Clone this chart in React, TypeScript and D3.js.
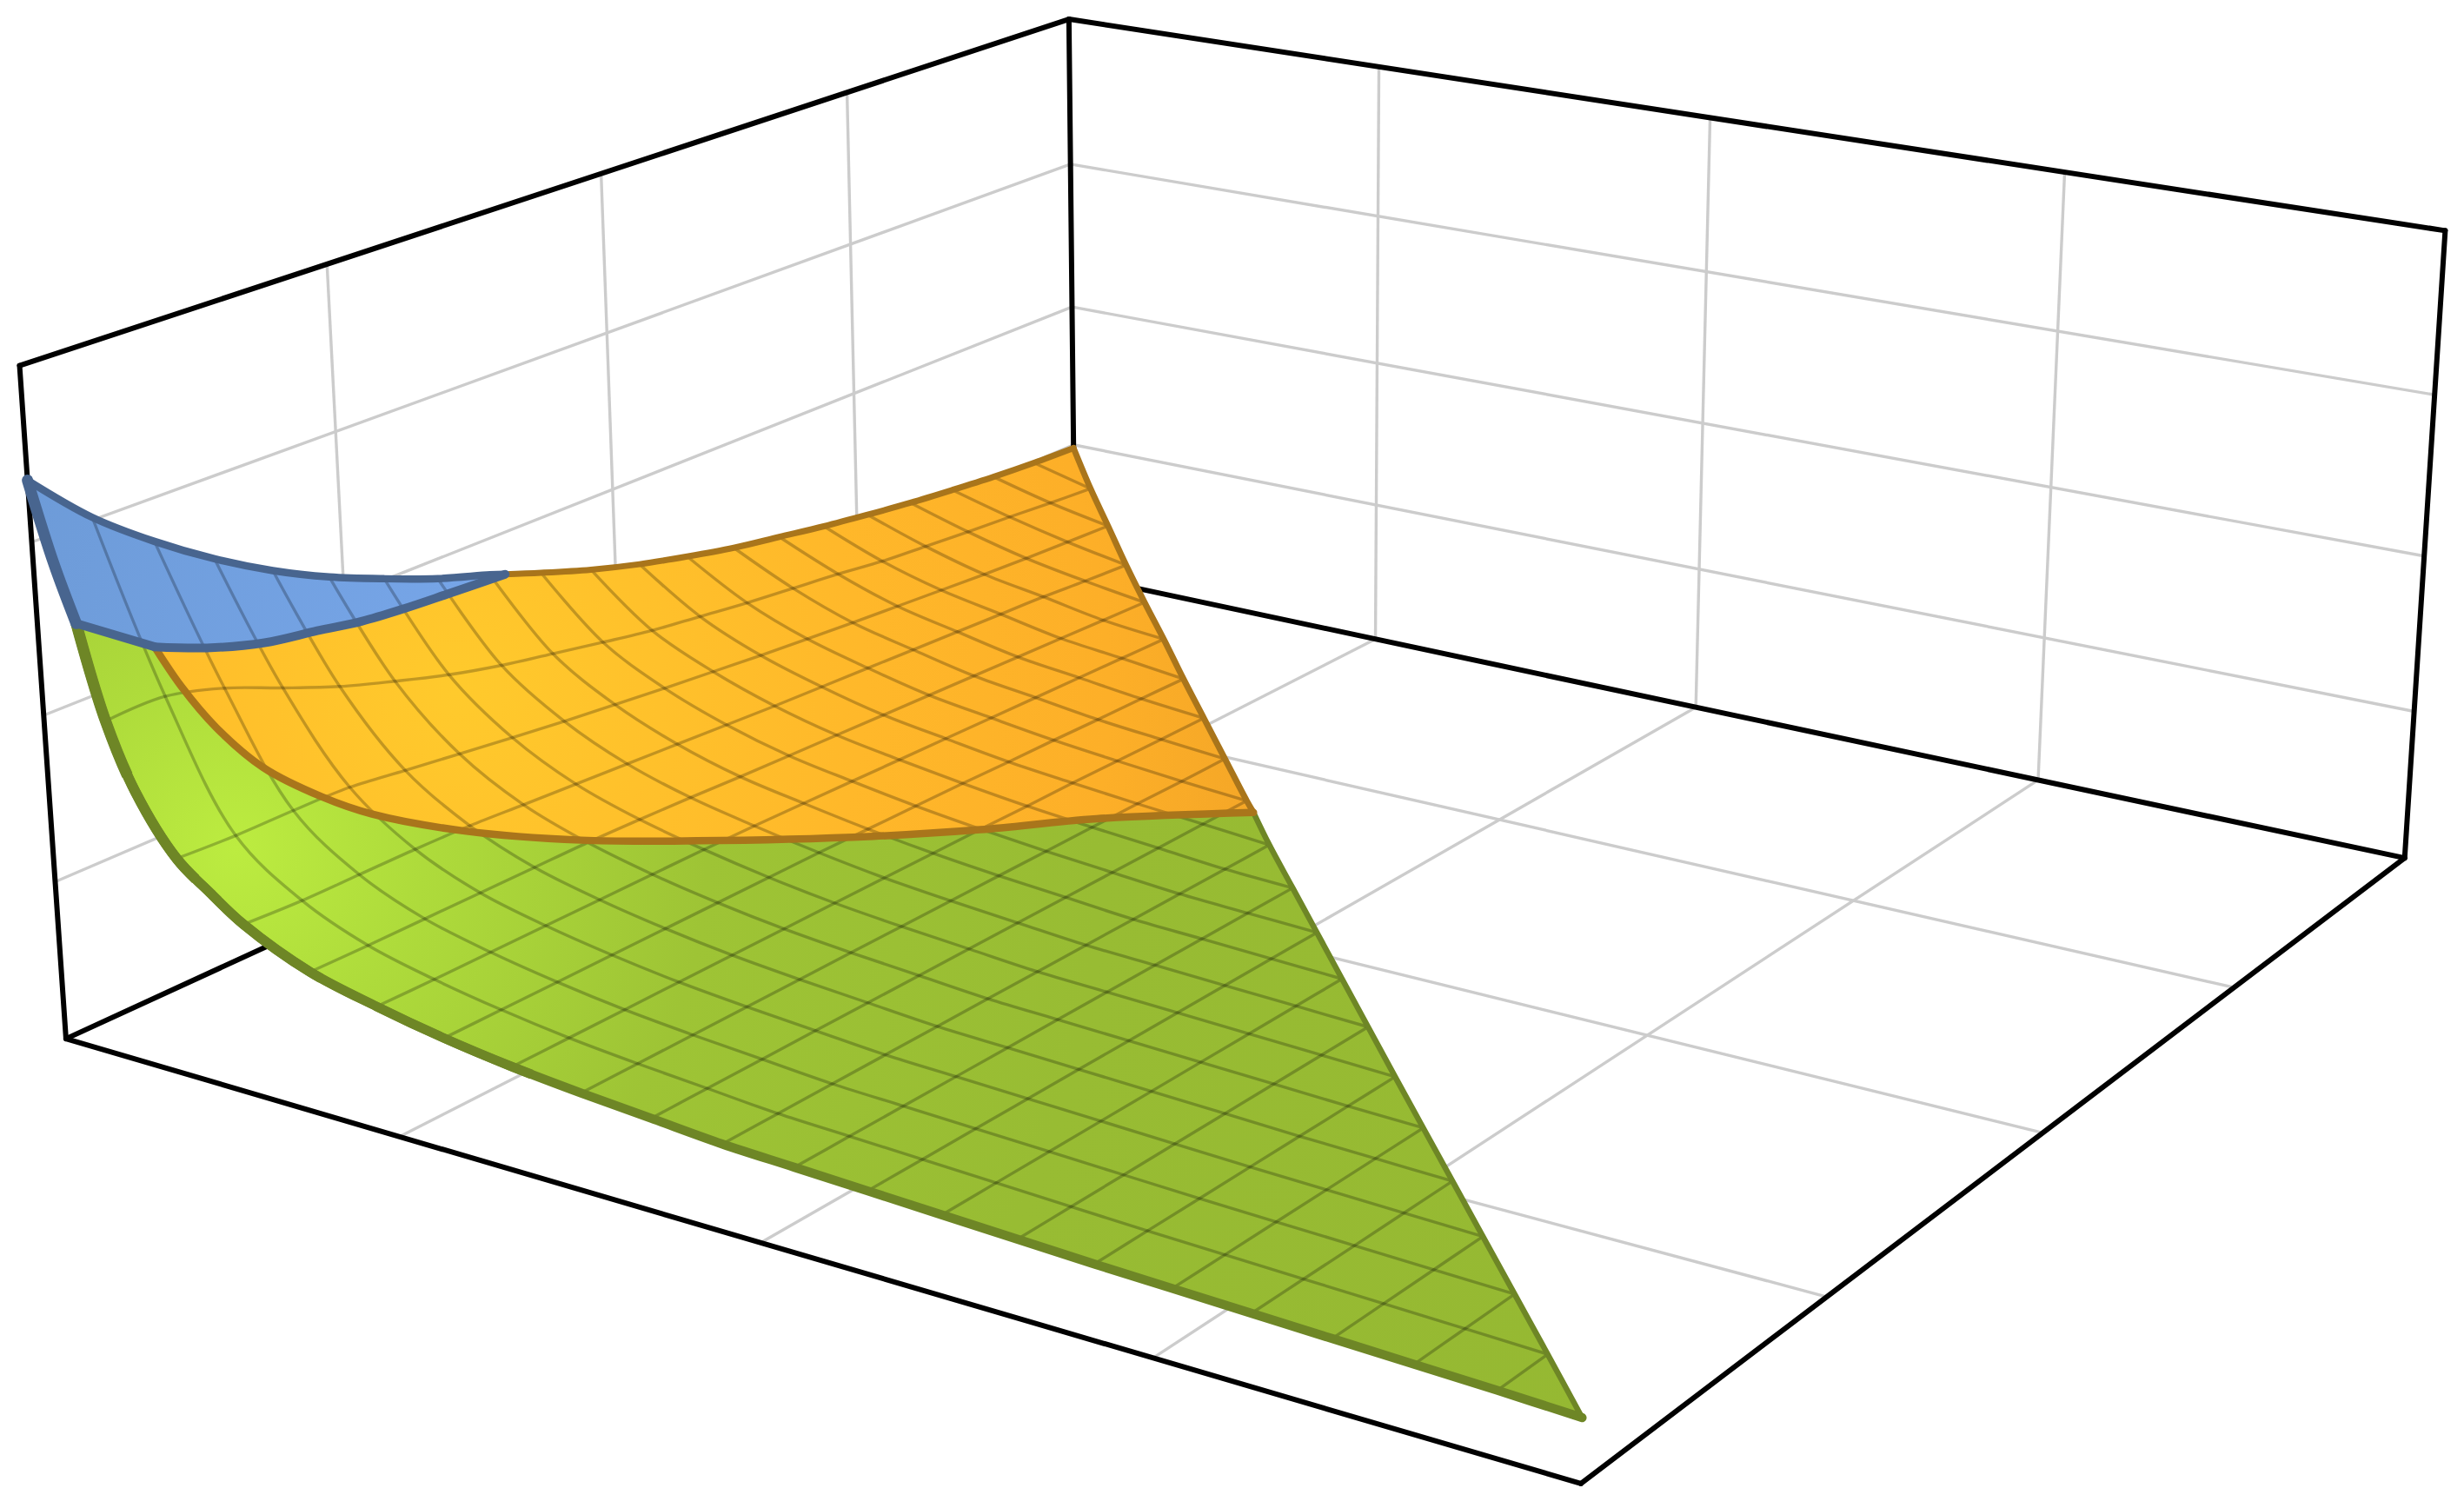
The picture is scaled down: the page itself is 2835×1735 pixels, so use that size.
import React from 'react'
import * as d3 from 'd3'

type P3 = number[]

const W = 2835
const H = 1735

const xTicks = [0.25, 0.5, 0.75]
const yTicks = [0.25, 0.5, 0.75]
const zTicks = [0.24, 0.49, 0.745]

// height of the surface at x = i/21, y = j/21, one row per x (triangular domain x + y <= 1)
const meshZ = [
  [0.835, 0.749, 0.681, 0.622, 0.571, 0.528, 0.492, 0.459, 0.432, 0.402, 0.374, 0.35, 0.33, 0.312, 0.298, 0.284, 0.272, 0.261, 0.252, 0.244, 0.238, 0.234],
  [0.505, 0.506, 0.483, 0.448, 0.415, 0.388, 0.363, 0.343, 0.327, 0.311, 0.296, 0.285, 0.274, 0.265, 0.256, 0.245, 0.238, 0.231, 0.225, 0.218, 0.212],
  [0.326, 0.322, 0.322, 0.32, 0.309, 0.298, 0.287, 0.277, 0.268, 0.259, 0.251, 0.243, 0.236, 0.229, 0.223, 0.217, 0.211, 0.206, 0.202, 0.198],
  [0.254, 0.25, 0.25, 0.25, 0.248, 0.243, 0.238, 0.233, 0.228, 0.223, 0.218, 0.214, 0.21, 0.206, 0.202, 0.198, 0.194, 0.188, 0.183],
  [0.21, 0.209, 0.209, 0.209, 0.209, 0.209, 0.207, 0.204, 0.2, 0.197, 0.194, 0.191, 0.188, 0.185, 0.182, 0.179, 0.176, 0.173],
  [0.186, 0.185, 0.185, 0.185, 0.185, 0.185, 0.185, 0.184, 0.182, 0.18, 0.178, 0.176, 0.174, 0.172, 0.17, 0.168, 0.166],
  [0.167, 0.167, 0.167, 0.167, 0.167, 0.167, 0.167, 0.167, 0.166, 0.165, 0.164, 0.162, 0.161, 0.159, 0.158, 0.156],
  [0.153, 0.153, 0.153, 0.153, 0.153, 0.153, 0.153, 0.153, 0.153, 0.153, 0.152, 0.152, 0.151, 0.15, 0.149],
  [0.143, 0.143, 0.143, 0.143, 0.143, 0.143, 0.143, 0.143, 0.143, 0.143, 0.143, 0.143, 0.142, 0.142],
  [0.135, 0.135, 0.135, 0.135, 0.135, 0.135, 0.135, 0.135, 0.135, 0.135, 0.135, 0.135, 0.135],
  [0.127, 0.127, 0.127, 0.127, 0.127, 0.127, 0.127, 0.127, 0.127, 0.127, 0.127, 0.127],
  [0.123, 0.123, 0.123, 0.123, 0.123, 0.123, 0.123, 0.123, 0.123, 0.123, 0.123],
  [0.119, 0.119, 0.119, 0.119, 0.119, 0.119, 0.119, 0.119, 0.119, 0.119],
  [0.115, 0.115, 0.115, 0.115, 0.115, 0.115, 0.115, 0.115, 0.115],
  [0.111, 0.111, 0.111, 0.111, 0.111, 0.111, 0.111, 0.111],
  [0.107, 0.107, 0.107, 0.107, 0.107, 0.107, 0.107],
  [0.104, 0.104, 0.104, 0.104, 0.104, 0.104],
  [0.101, 0.101, 0.101, 0.101, 0.101],
  [0.098, 0.098, 0.098, 0.098],
  [0.095, 0.095, 0.095],
  [0.092, 0.092],
  [0.088],
]

// where the pieces of the surface meet, as x, y, z
const blueGreenStart = [0.03, 0, 0.64]
const blueLeftMid = [0.016, 0, 0.72]
const tripleJoin = [0.032, 0.0576, 0.565]
const blueCrease = [
  [0.036, 0.0952, 0.538],
  [0.0305, 0.148, 0.505],
  [0.0263, 0.197, 0.486],
  [0.0197, 0.2424, 0.465],
  [0.014, 0.2857, 0.451],
  [0.0066, 0.3333, 0.437],
  [0, 0.395, 0.423],
]
const orangeCrease = [
  [0.0393, 0.0695, 0.5],
  [0.0553, 0.0786, 0.44],
  [0.077, 0.0921, 0.38],
  [0.0996, 0.1144, 0.33],
  [0.1206, 0.1327, 0.3],
  [0.153, 0.1744, 0.258],
  [0.191, 0.2318, 0.218],
  [0.229, 0.2905, 0.19],
  [0.295, 0.374, 0.165],
  [0.335, 0.426, 0.155],
  [0.378, 0.485, 0.148],
  [0.443, 0.557, 0.135],
]
// extra outline readings between the first wide mesh steps of the lower edge
const lowerEdgeA = [0.067, 0, 0.41]
const lowerEdgeB = [0.119, 0, 0.288]

// camera: homogeneous projection of the unit box, result in the 1568 wide frame
const camX = [810.1, 802.1, -30, 42]
const camY = [138.6, -209.4, -437, 661]
const camW = [-0.153, 0.234, -0.0372, 1]

const px = d3.scaleLinear().domain([0, 1568]).range([0, W])
const meshStep = d3.scaleLinear().domain([0, 21]).range([0, 1])

function project(p: P3) {
  const dot = (c: number[]) => c[0] * p[0] + c[1] * p[1] + c[2] * p[2] + c[3]
  const w = dot(camW)
  return [px(dot(camX) / w), px(dot(camY) / w)]
}

const smooth = d3
  .line<P3>()
  .x(d => project(d)[0])
  .y(d => project(d)[1])
  .curve(d3.curveCatmullRom.alpha(0.5))

const straight = (a: P3, b: P3) => {
  const p = project(a)
  const q = project(b)
  return `M${p[0]},${p[1]}L${q[0]},${q[1]}`
}

// glue several smooth runs into one closed ring
const ring = (...runs: P3[][]) =>
  runs.map((r, k) => (k ? smooth(r)!.replace('M', 'L') : smooth(r))).join('') + 'Z'

const node = (i: number, j: number): P3 => [meshStep(i), meshStep(j), meshZ[i][j]]

const xLine = (i: number) => meshZ[i].map((_, j) => node(i, j))
const yLine = (j: number) => meshZ.filter(r => r.length > j).map((_, i) => node(i, j))
const back = (r: P3[]) => [...r].reverse()

const topEdge = xLine(0)
const blueMeet = blueCrease[blueCrease.length - 1]
const blueTop = [...topEdge.slice(0, 9), blueMeet]
const orangeTop = [blueMeet, ...topEdge.slice(9)]
const diagonal = meshZ.map((r, i) => node(i, r.length - 1))
const meetDiagonal = orangeCrease[orangeCrease.length - 1]
const orangeDiagonal = [...diagonal.slice(0, 10), meetDiagonal]
const greenDiagonal = [meetDiagonal, ...diagonal.slice(10)]
const lowerNodes = yLine(0)
const bottomEdge = [blueGreenStart, lowerNodes[1], lowerEdgeA, lowerNodes[2], lowerEdgeB, ...lowerNodes.slice(3)]
const blueLeft = [node(0, 0), blueLeftMid, blueGreenStart]
const blueLower = [tripleJoin, ...blueCrease]
const orangeLower = [tripleJoin, ...orangeCrease]
const blueShort = [blueGreenStart, tripleJoin]

// the lower edge gets a little thicker towards the steep end, share of its length
const bottomTaper = [
  { upTo: 0.38, width: 10.9 },
  { upTo: 0.25, width: 11.4 },
  { upTo: 0.16, width: 12 },
  { upTo: 0.09, width: 13 },
]

const boxEdges = [
  [[0, 0, 0], [0, 1, 0]],
  [[0, 1, 0], [1, 1, 0]],
  [[0, 1, 0], [0, 1, 1]],
  [[0, 0, 0], [1, 0, 0]],
  [[1, 0, 0], [1, 1, 0]],
  [[1, 1, 0], [1, 1, 1]],
  [[1, 1, 1], [0, 1, 1]],
  [[0, 1, 1], [0, 0, 1]],
  [[0, 0, 1], [0, 0, 0]],
]

const gridLines: P3[][] = [
  ...xTicks.map(x => [[x, 0, 0], [x, 1, 0]]),
  ...yTicks.map(y => [[0, y, 0], [1, y, 0]]),
  ...yTicks.map(y => [[0, y, 0], [0, y, 1]]),
  ...xTicks.map(x => [[x, 1, 0], [x, 1, 1]]),
  ...zTicks.map(z => [[0, 0, z], [0, 1, z]]),
  ...zTicks.map(z => [[0, 1, z], [1, 1, z]]),
]

const meshIdx = d3.range(1, 21)

export default function App() {
  return (
    <svg
      width={W}
      height={H}
      viewBox={`0 0 ${W} ${H}`}
      style={{ position: 'absolute', left: 0, top: 0, background: '#fff' }}
    >
      <defs>
        <radialGradient id="greenFill" gradientUnits="userSpaceOnUse" cx={px(150)} cy={px(540)} r={px(1000)}>
          <stop offset="0" stopColor="#bcec40" />
          <stop offset="0.12" stopColor="#aedb3b" />
          <stop offset="0.3" stopColor="#9ec435" />
          <stop offset="0.55" stopColor="#98bc33" />
          <stop offset="1" stopColor="#95b832" />
        </radialGradient>
        <radialGradient id="orangeFill" gradientUnits="userSpaceOnUse" cx={px(290)} cy={px(440)} r={px(520)}>
          <stop offset="0" stopColor="#ffca2c" />
          <stop offset="0.5" stopColor="#ffb82a" />
          <stop offset="0.8" stopColor="#fdaf28" />
          <stop offset="1" stopColor="#f4a627" />
        </radialGradient>
        <linearGradient id="blueFill" gradientUnits="userSpaceOnUse" x1={px(18)} y1={px(305)} x2={px(320)} y2={px(400)}>
          <stop offset="0" stopColor="#6d9bd8" />
          <stop offset="1" stopColor="#77a6e9" />
        </linearGradient>
      </defs>

      <g stroke="#cccccc" strokeWidth={3.4} fill="none">
        {gridLines.map((l, k) => (
          <path key={k} d={straight(l[0], l[1])} />
        ))}
      </g>
      <g stroke="#000" strokeWidth={6} fill="none" strokeLinecap="round">
        {boxEdges.map((l, k) => (
          <path key={k} d={straight(l[0], l[1])} />
        ))}
      </g>

      <path d={ring(blueShort, orangeCrease, back(greenDiagonal), back(bottomEdge))} fill="url(#greenFill)" />
      <path d={ring(orangeLower, back(orangeDiagonal), back(orangeTop), back(blueLower))} fill="url(#orangeFill)" />
      <path d={ring(blueLeft, blueShort, blueLower, back(blueTop))} fill="url(#blueFill)" />

      <g stroke="#000" strokeOpacity={0.24} strokeWidth={3.4} fill="none">
        {meshIdx.map(i => (
          <path key={`x${i}`} d={smooth(xLine(i))!} />
        ))}
        {meshIdx.map(j => (
          <path key={`y${j}`} d={smooth(yLine(j))!} />
        ))}
      </g>

      <g fill="none" strokeLinecap="round" strokeLinejoin="round">
        <path d={smooth(bottomEdge)!} stroke="#6e8626" strokeWidth={10.4} />
        {bottomTaper.map(t => (
          <path
            key={t.width}
            d={smooth(bottomEdge)!}
            stroke="#6e8626"
            strokeWidth={t.width}
            strokeLinecap="butt"
            pathLength={1}
            strokeDasharray={`${t.upTo} 1`}
          />
        ))}
        <path d={smooth(greenDiagonal)!} stroke="#6e8626" strokeWidth={6.5} />
        <path d={smooth(orangeTop)!} stroke="#a9751b" strokeWidth={7} />
        <path d={smooth(orangeDiagonal)!} stroke="#a9751b" strokeWidth={7} />
        <path d={smooth(orangeLower)!} stroke="#a9751b" strokeWidth={8.5} />
        <path d={smooth(blueTop)!} stroke="#48658f" strokeWidth={8.5} />
        <path d={smooth(blueLeft)!} stroke="#48658f" strokeWidth={13} />
        <path d={smooth(blueShort)!} stroke="#48658f" strokeWidth={10} />
        <path d={smooth(blueLower)!} stroke="#48658f" strokeWidth={10} />
      </g>
    </svg>
  )
}
